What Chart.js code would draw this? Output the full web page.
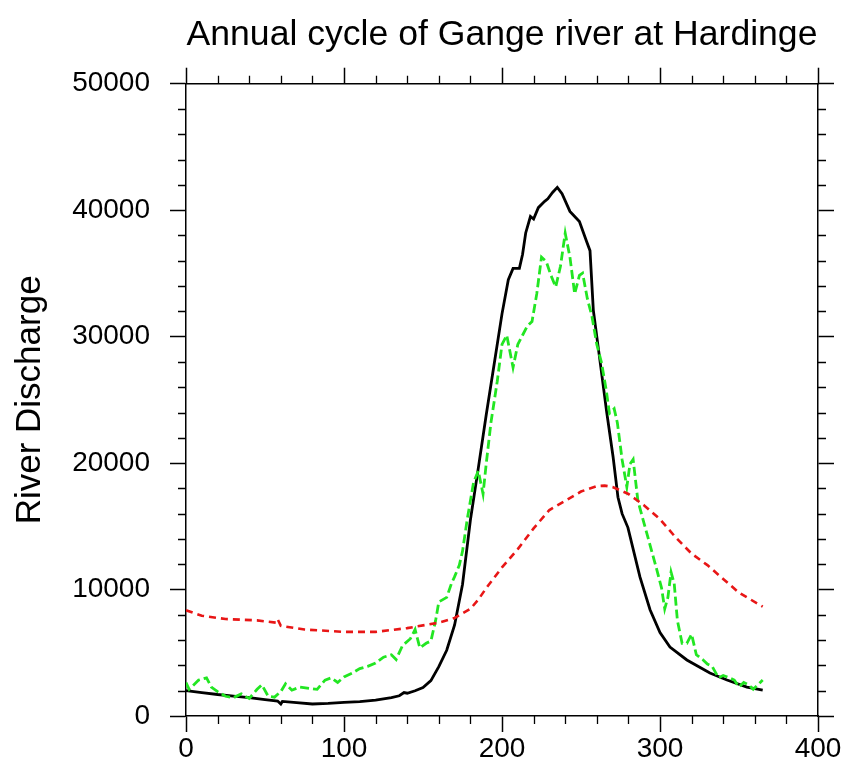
<!DOCTYPE html>
<html>
<head>
<meta charset="utf-8">
<script src="https://cdn.jsdelivr.net/npm/chart.js@4/dist/chart.umd.min.js"></script>
<style>
  html, body { margin: 0; padding: 0; background: #ffffff; }
  #wrap { width: 847px; height: 780px; }
</style>
</head>
<body>
<div id="wrap"><canvas id="c" width="847" height="780"></canvas></div>
<script>
// ---- data ----
const titleText = 'Annual cycle of Gange river at Hardinge';
const yAxisTitle = 'River Discharge';

const xMajorTicks = [0, 100, 200, 300, 400];
const yMajorTicks = [0, 10000, 20000, 30000, 40000, 50000];

// black solid series
const blackDays = [0, 10, 20, 30, 40, 50, 58, 60, 61, 70, 80, 90, 100, 110, 120, 130, 135, 138, 140, 145, 150, 155, 160, 165, 170, 175, 180, 185, 190, 195, 200, 204, 207, 211, 213, 215, 218, 220, 223, 227, 229, 232, 235, 238, 243, 249, 253.6, 255.7, 257.8, 262, 266.3, 270.3, 273.4, 276, 279.7, 287.3, 293.7, 300, 306.3, 317, 331.6, 342.4, 355, 365];
const blackValues = [2000, 1850, 1700, 1580, 1450, 1300, 1180, 950, 1150, 1050, 950, 1000, 1080, 1130, 1250, 1450, 1600, 1850, 1800, 2000, 2250, 2800, 3900, 5200, 7200, 10400, 15500, 19600, 23800, 27800, 31800, 34500, 35400, 35400, 36500, 38200, 39500, 39300, 40200, 40700, 40900, 41400, 41800, 41300, 39900, 39100, 37500, 36800, 32100, 28100, 24000, 20500, 17300, 16000, 14900, 11000, 8400, 6600, 5450, 4430, 3400, 2850, 2290, 2050];

// red dashed series
const redDays = [0, 10, 25, 45, 57, 58, 60, 75, 100, 120, 140, 160, 170, 180, 185, 190, 200, 210, 220, 230, 240, 250, 260, 265, 270, 280, 290, 300, 310, 320, 330, 340, 350, 365];
const redValues = [8360, 7930, 7670, 7560, 7380, 7650, 7130, 6840, 6650, 6650, 6950, 7380, 7750, 8470, 9200, 10110, 11750, 13200, 14840, 16290, 17020, 17750, 18180, 18220, 18110, 17560, 16650, 15560, 14110, 12840, 11930, 10840, 9750, 8650];

// green dashed series
const greenDays = [0, 2, 5, 8, 10, 13, 16, 20, 25, 30, 35, 40, 45, 48, 52, 56, 60, 63, 67, 72, 78, 83, 88, 92, 96, 100, 105, 110, 115, 120, 125, 130, 133, 137, 142, 145, 148, 152, 155, 158, 160, 165, 168, 170, 173, 175, 178, 182, 185, 188, 190, 193, 197, 200, 203, 207, 210, 213, 216, 219, 222, 225, 228, 231, 234, 237, 240, 243, 246, 249, 251, 254, 257, 260, 263, 266, 268, 271, 273, 276, 279, 281, 283, 286, 290, 294, 298, 301, 303, 305, 307, 309, 311, 314, 317, 320, 323, 327, 330, 333, 337, 340, 344, 347, 350, 353, 356, 359, 362, 365];
const greenValues = [2650, 2110, 2470, 2840, 2910, 3020, 2290, 1930, 1560, 1450, 1750, 1380, 2110, 2470, 1560, 1490, 1930, 2550, 2040, 2290, 2180, 2110, 2840, 3020, 2650, 3090, 3380, 3750, 3930, 4180, 4650, 4840, 4470, 5560, 6110, 6840, 5380, 5750, 5930, 7560, 9020, 9380, 10470, 11020, 11930, 13020, 15560, 18470, 19380, 17560, 19930, 23200, 26470, 29380, 30110, 27560, 29380, 30110, 30840, 31200, 33380, 36290, 35930, 34840, 33930, 35560, 38180, 36290, 33380, 34840, 35020, 33020, 31560, 29380, 27930, 25750, 23930, 24290, 23200, 20290, 18110, 19930, 20290, 17020, 15200, 13380, 11560, 10110, 8470, 9380, 11380, 10470, 7560, 5750, 5750, 6470, 4840, 4470, 4110, 3930, 3020, 3200, 3020, 2840, 2290, 2650, 2470, 2110, 2470, 2840];

const toPoints = (xs, ys) => xs.map((x, i) => ({ x: x, y: ys[i] }));

const FONT = "'Liberation Sans', Arial, Helvetica, sans-serif";

// draws minor tick marks using the chart's own scales
const minorTicks = {
  id: 'minorTicks',
  afterDraw(chart) {
    const ctx = chart.ctx;
    const a = chart.chartArea;
    const len = 8;
    ctx.save();
    ctx.strokeStyle = '#000';
    ctx.lineWidth = 1.3;
    const xs = chart.scales.x;
    const ys = chart.scales.y;
    ctx.beginPath();
    for (let v = 0; v <= 400; v += 20) {
      if (v % 100 === 0) continue;
      const px = Math.round(xs.getPixelForValue(v)) + 0.5;
      ctx.moveTo(px, a.bottom); ctx.lineTo(px, a.bottom + len);
      ctx.moveTo(px, a.top); ctx.lineTo(px, a.top - len);
    }
    for (let v = 0; v <= 50000; v += 2000) {
      if (v % 10000 === 0) continue;
      const py = Math.round(ys.getPixelForValue(v)) + 0.5;
      ctx.moveTo(a.left, py); ctx.lineTo(a.left - len, py);
      ctx.moveTo(a.right, py); ctx.lineTo(a.right + len, py);
    }
    ctx.stroke();
    ctx.restore();
  }
};

const axisGrid = {
  drawOnChartArea: false,
  drawTicks: true,
  tickLength: 16,
  tickWidth: 1.5,
  tickColor: '#000',
  color: '#000'
};
const axisBorder = { display: true, color: '#000', width: 1.5 };

new Chart(document.getElementById('c'), {
  type: 'line',
  data: {
    datasets: [
      {
        data: toPoints(redDays, redValues),
        borderColor: 'rgb(232,22,22)',
        borderWidth: 2.6,
        borderDash: [7, 5],
        pointRadius: 0,
        fill: false
      },
      {
        data: toPoints(greenDays, greenValues),
        borderColor: 'rgb(34,230,34)',
        borderWidth: 2.8,
        borderDash: [9, 4],
        pointRadius: 0,
        fill: false
      },
      {
        data: toPoints(blackDays, blackValues),
        borderColor: '#000',
        borderWidth: 2.8,
        pointRadius: 0,
        fill: false
      }
    ]
  },
  options: {
    responsive: false,
    animation: false,
    layout: { padding: { left: 0, right: 0, top: 0, bottom: 0 } },
    plugins: {
      legend: { display: false },
      tooltip: { enabled: false },
      title: {
        display: true,
        text: titleText,
        fullSize: false,
        color: '#000',
        font: { family: FONT, size: 35.6, weight: 'normal' },
        padding: { top: 14, bottom: 0 }
      }
    },
    scales: {
      x: {
        type: 'linear',
        position: 'bottom',
        min: 0, max: 400,
        afterBuildTicks: (s) => { s.ticks = xMajorTicks.map(v => ({ value: v })); },
        afterFit: (s) => { s.height = 64; },
        grid: axisGrid,
        border: axisBorder,
        ticks: {
          color: '#000',
          font: { family: FONT, size: 28 },
          padding: 0,
          maxRotation: 0,
          autoSkip: false
        }
      },
      xTop: {
        type: 'linear',
        position: 'top',
        min: 0, max: 400,
        afterBuildTicks: (s) => { s.ticks = xMajorTicks.map(v => ({ value: v })); },
        afterFit: (s) => { s.height = 27; },
        grid: axisGrid,
        border: axisBorder,
        ticks: { display: false }
      },
      y: {
        type: 'linear',
        position: 'left',
        min: 0, max: 50000,
        afterBuildTicks: (s) => { s.ticks = yMajorTicks.map(v => ({ value: v })); },
        afterFit: (s) => { s.width = 186; },
        grid: axisGrid,
        border: axisBorder,
        title: {
          display: true,
          text: yAxisTitle,
          color: '#000',
          font: { family: FONT, size: 35, weight: 'normal' },
          padding: { top: 9, bottom: 0 }
        },
        ticks: {
          color: '#000',
          font: { family: FONT, size: 28 },
          padding: 20,
          autoSkip: false,
          callback: (v) => String(v)
        }
      },
      yRight: {
        type: 'linear',
        position: 'right',
        min: 0, max: 50000,
        afterBuildTicks: (s) => { s.ticks = yMajorTicks.map(v => ({ value: v })); },
        afterFit: (s) => { s.width = 29; },
        grid: axisGrid,
        border: axisBorder,
        ticks: { display: false }
      }
    }
  },
  plugins: [minorTicks]
});
</script>
</body>
</html>
